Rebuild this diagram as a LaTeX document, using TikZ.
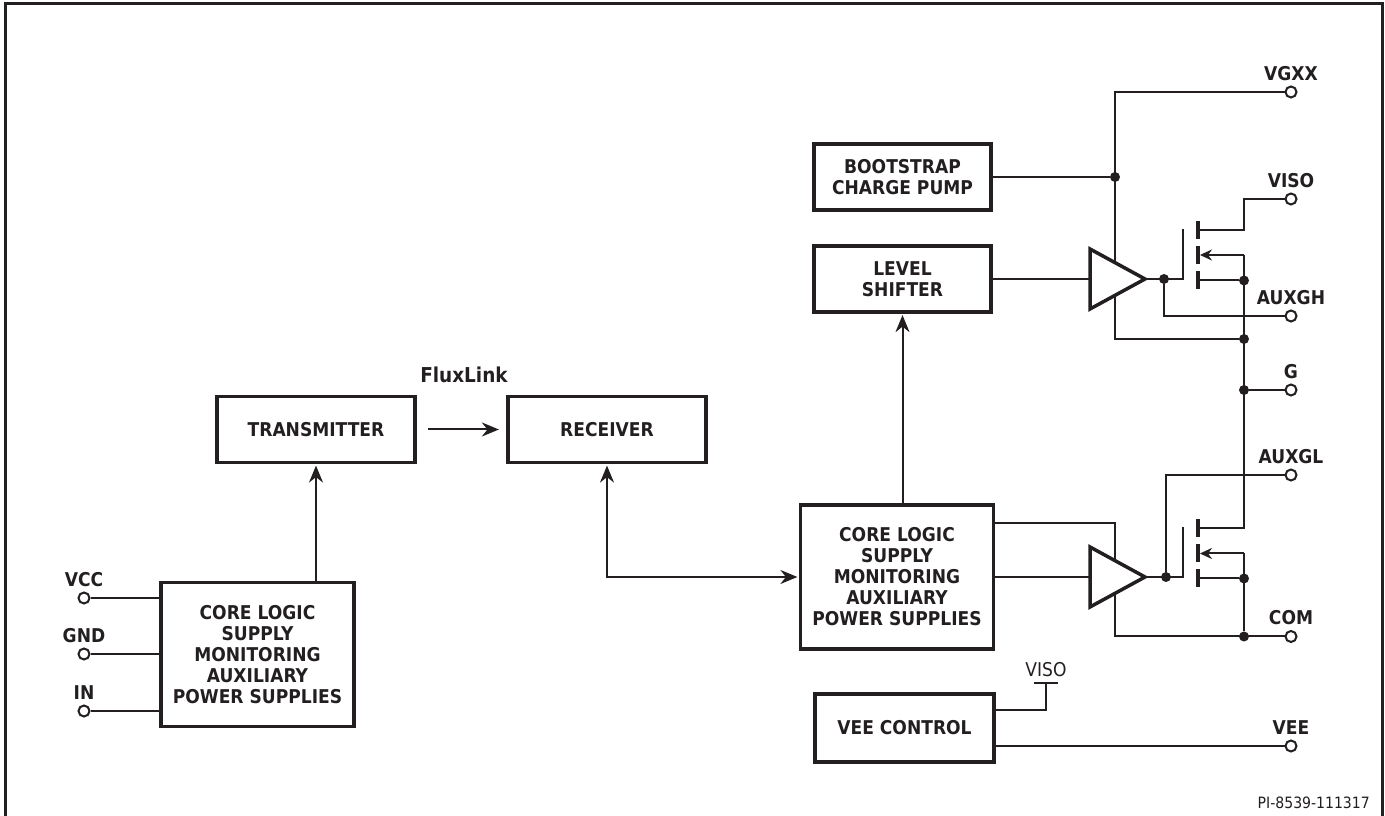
\documentclass[tikz,border=0pt]{standalone}
\usepackage{fontspec}
\setmainfont[FakeStretch=0.9]{DejaVu Sans}
\usepackage{tikz}
\usetikzlibrary{shapes.geometric, arrows.meta}
\definecolor{ink}{HTML}{231F20}
\tikzstyle{block} = [rectangle, minimum width=198pt, minimum height=66pt, align=center, draw=ink, text=ink, line width=3.2pt, font=\fontsize{19}{21}\selectfont\bfseries]
\tikzstyle{coreblock} = [block, minimum width=193pt, minimum height=144pt]
\tikzstyle{sideblock} = [block, minimum width=177pt, minimum height=66pt]
\tikzstyle{driver} = [isosceles triangle, isosceles triangle stretches, minimum width=60pt, minimum height=55pt, inner sep=0pt, outer sep=0pt, anchor=lower side, draw=ink, line width=3.5pt, miter limit=10]
\tikzstyle{dot} = [circle, fill=ink, minimum size=10pt, inner sep=0pt]
\tikzstyle{term} = [circle, draw=ink, fill=white, line width=2pt, minimum size=11pt, inner sep=0pt]
\tikzstyle{fetbar} = [rectangle, fill=ink, minimum width=3.5pt, minimum height=18pt, inner sep=0pt]
\tikzstyle{toptick} = [rectangle, fill=ink, minimum width=24pt, minimum height=2pt, inner sep=0pt]
\tikzstyle{pinlabel} = [text=ink, inner sep=0pt, font=\fontsize{19}{20}\selectfont\bfseries]
\tikzstyle{thinlabel} = [text=ink, inner sep=0pt, font=\fontsize{15.6}{18}\selectfont]
\tikzstyle{wire} = [draw=ink, line width=2pt]
\tikzstyle{arrow} = [wire, -{Stealth[length=17pt, width=14pt]}]
\tikzstyle{fetarrow} = [wire, -{Stealth[length=12pt, width=11pt]}]
\tikzstyle{frame} = [draw=ink, line width=3pt]
\begin{document}
\begin{tikzpicture}[x=1pt, y=1pt, node distance=100pt, every label/.style={pinlabel, yshift=5pt}]
      \useasboundingbox (0,0) rectangle (1385,816);
      \draw [frame] (5,0) -- (5,812) -- (1382,812) -- (1382,0);
      \node (txbox) [block] at (316,386.5) {TRANSMITTER};
      \node (rxbox) [block, right of=txbox, xshift=191pt] {RECEIVER};
      \node (fluxlabel) [pinlabel, font=\fontsize{20.5}{20}\selectfont\bfseries, above of=txbox, xshift=148pt, yshift=-45.5pt] {FluxLink};
      \node (coreinbox) [coreblock, below of=txbox, xshift=-58.5pt, yshift=-125pt] {CORE LOGIC\\SUPPLY\\MONITORING\\AUXILIARY\\POWER SUPPLIES};
      \node (coreoutbox) [coreblock, right of=rxbox, xshift=190pt, yshift=-147.5pt] {CORE LOGIC\\SUPPLY\\MONITORING\\AUXILIARY\\POWER SUPPLIES};
      \node (levelbox) [sideblock, above of=coreoutbox, xshift=5.5pt, yshift=198pt] {LEVEL\\SHIFTER};
      \node (bootbox) [sideblock, above of=levelbox, yshift=2pt] {BOOTSTRAP\\CHARGE PUMP};
      \node (veebox) [sideblock, below of=coreoutbox, xshift=7.5pt, yshift=-51pt, minimum width=179pt, minimum height=68pt] {VEE CONTROL};
      \node (drvh) [driver] at (1090,537) {};
      \node (drvl) [driver] at (1090,239) {};
      \node (vcc) [term, label={above:VCC}] at (84,218) {};
      \node (gnd) [term, label={above:GND}] at (84,162) {};
      \node (in) [term, label={above:IN}] at (84,105) {};
      \node (vgxx) [term, label={above:VGXX}] at (1291,724) {};
      \node (viso) [term, label={above:VISO}] at (1291,617) {};
      \node (auxgh) [term, label={above:AUXGH}] at (1291,500) {};
      \node (g) [term, label={above:G}] at (1291,426) {};
      \node (auxgl) [term, label={above:AUXGL}] at (1291,341) {};
      \node (com) [term, label={above:COM}] at (1291,179.5) {};
      \node (vee) [term, label={above:VEE}] at (1291,70) {};
      \node (visotick) [toptick] at (1045.5,133) {};
      \node (visolabel) [thinlabel, font=\fontsize{19}{20}\selectfont] at (1046,146) {VISO};
      \node (pilabel) [thinlabel, anchor=east] at (1370,13) {PI-8539-111317};
      \node (dboot) [dot] at (1115,639) {};
      \node (dgateh) [dot] at (1164,537) {};
      \node (dsrch) [dot] at (1244,535.5) {};
      \node (drail) [dot] at (1244,477) {};
      \node (dg) [dot] at (1244,426) {};
      \node (dgatel) [dot] at (1166,239) {};
      \node (dsrcl) [dot] at (1244,237.5) {};
      \node (dcom) [dot] at (1244,179.5) {};
      \node (bartoph) [fetbar] at (1198,585.5) {};
      \node (barmidh) [fetbar] at (1198,561) {};
      \node (barboth) [fetbar] at (1198,535.5) {};
      \node (bartopl) [fetbar] at (1198,287.5) {};
      \node (barmidl) [fetbar] at (1198,262.5) {};
      \node (barbotl) [fetbar] at (1198,237.5) {};
      \coordinate (jhtop) at (1115,553);
      \coordinate (jhbot) at (1115,521);
      \coordinate (jltop) at (1115,255);
      \coordinate (jlbot) at (1115,223);
      \coordinate (gtoph) at (1183,587);
      \coordinate (gtopl) at (1183,289);
      \coordinate (railh) at (1244,561);
      \coordinate (raildrain) at (1244,287.5);
      \coordinate (raill) at (1244,262.5);
      \coordinate (visobend) at (1244,585.5);
      \draw [arrow, shorten >=1.5pt] (txbox.south |- coreinbox.north) -- (txbox.south);
      \draw [arrow, shorten <=11.5pt, shorten >=7.5pt] (txbox.east) -- (rxbox.west);
      \draw [wire, {Stealth[length=17pt, width=14pt]}-{Stealth[length=17pt, width=14pt]}, shorten <=1.5pt, shorten >=1.5pt] (rxbox.south) -- (rxbox.south |- coreoutbox.west) -- (coreoutbox.west);
      \draw [arrow, shorten >=1.5pt] (levelbox.south |- coreoutbox.north) -- (levelbox.south);
      \draw [wire] (vcc.east) -- (vcc -| coreinbox.west);
      \draw [wire] (gnd.east) -- (gnd -| coreinbox.west);
      \draw [wire] (in.east) -- (in -| coreinbox.west);
      \draw [wire] (bootbox.east) -- (dboot);
      \draw [wire] (vgxx.west) -| (jhtop);
      \draw [wire] (levelbox.east) -- (drvh.lower side);
      \draw [wire] (jhbot) |- (drail);
      \draw [wire] (drvh.apex) -- (gtoph |- drvh.apex) -- (gtoph);
      \draw [wire] (dgateh) |- (auxgh.west);
      \draw [wire] (bartoph.east) -- (visobend) -- (visobend |- viso) -- (viso.west);
      \draw [fetarrow] (railh) -- (barmidh.east);
      \draw [wire] (railh) -- (raildrain) -- (bartopl.east);
      \draw [wire] (barboth.east) -- (dsrch);
      \draw [wire] (dg) -- (g.west);
      \draw [wire] ([yshift=54pt]coreoutbox.east) -| (jltop);
      \draw [wire] (coreoutbox.east) -- (drvl.lower side);
      \draw [wire] (jlbot) |- (com.west);
      \draw [wire] (drvl.apex) -- (gtopl |- drvl.apex) -- (gtopl);
      \draw [wire] (dgatel) |- (auxgl.west);
      \draw [fetarrow] (raill) -- (barmidl.east);
      \draw [wire] (raill) -- (dcom);
      \draw [wire] (barbotl.east) -- (dsrcl);
      \draw [wire] ([yshift=18pt]veebox.east) -| (visotick);
      \draw [wire] ([yshift=-18pt]veebox.east) -- (vee.west);
    \end{tikzpicture}
\end{document}
